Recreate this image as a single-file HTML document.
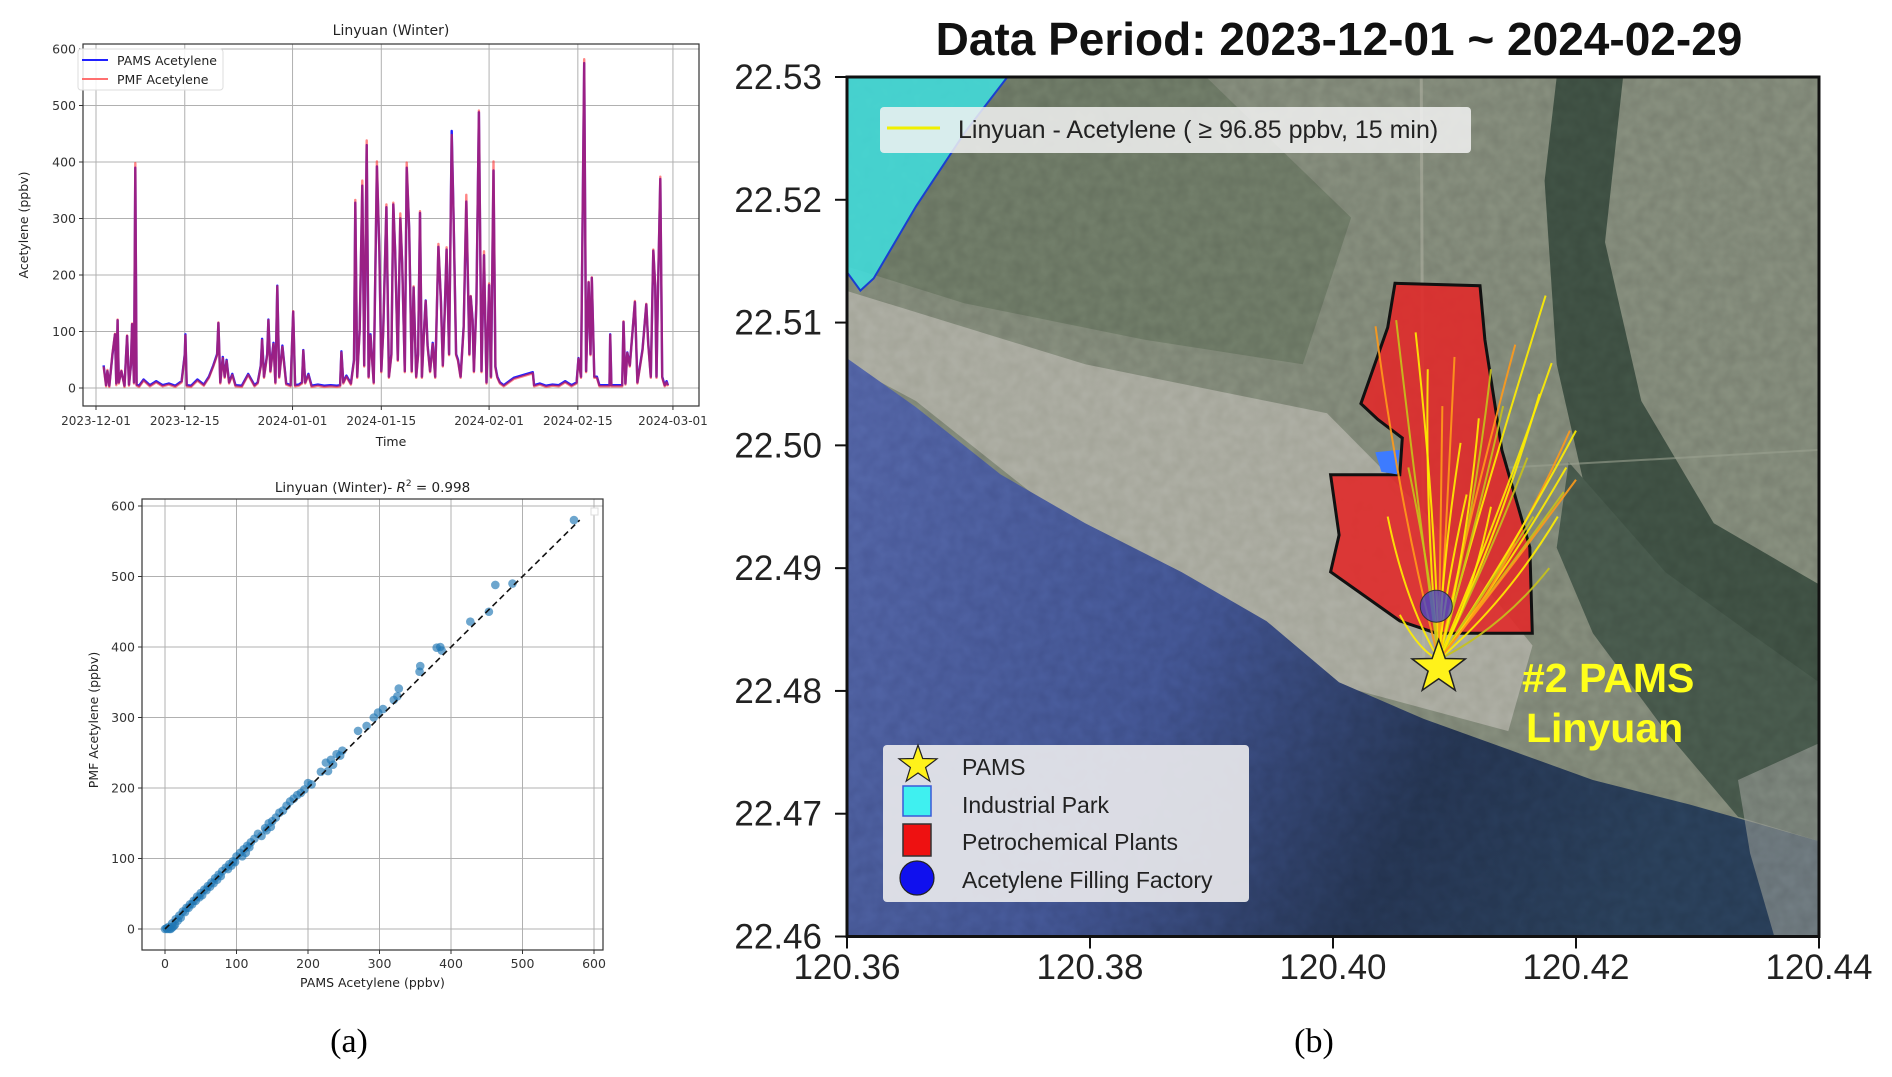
<!DOCTYPE html>
<html><head><meta charset="utf-8"><style>
html,body{margin:0;padding:0;background:#fff;}
svg{display:block;font-family:"DejaVu Sans","Liberation Sans",sans-serif;}
</style></head><body>
<svg id="root" width="1892" height="1077" viewBox="0 0 1892 1077" xmlns="http://www.w3.org/2000/svg">
<defs>
<linearGradient id="seaG" x1="0" y1="0" x2="1" y2="0.3">
<stop offset="0" stop-color="#4d5d9e"/><stop offset="0.45" stop-color="#3d4e88"/><stop offset="0.75" stop-color="#22314c"/><stop offset="1" stop-color="#263a52"/>
</linearGradient>
<clipPath id="mapClip"><rect x="847" y="77" width="972" height="859.5"/></clipPath>
<filter id="tex" x="0" y="0" width="1" height="1">
<feTurbulence type="fractalNoise" baseFrequency="0.08" numOctaves="2" seed="3" result="n"/>
<feColorMatrix type="matrix" values="0 0 0 0 0.5  0 0 0 0 0.5  0 0 0 0 0.5  0 0 0 0.35 0" in="n"/>
</filter>
</defs>
<g id="ts"></g>
<g id="sc"></g>
<g id="map"></g>
<text x="349" y="1052" font-family="Liberation Serif,serif" font-size="34" text-anchor="middle">(a)</text>
<text x="1314" y="1052" font-family="Liberation Serif,serif" font-size="34" text-anchor="middle">(b)</text>
</svg>
<script>
// ---------- Time series data (days since 2023-12-01) ----------
const tsDays = [
1.2,1.6,1.8,2.1,2.6,3.0,3.2,3.4,3.6,4.0,
4.5,4.9,5.2,5.5,5.7,6.0,6.2,6.4,6.8,7.5,
8.5,9.5,10.5,11.5,12.5,13.5,14.0,14.1,14.3,15,
16,17,17.8,18.5,19.1,19.3,19.6,20,20.3,20.6,
21,21.5,22,23,24,25,25.5,26.0,26.2,26.5,
27.0,27.2,27.5,28.0,28.3,28.6,28.9,29.4,30,30.7,
31.1,31.4,32,32.5,32.7,33,33.5,34,35,36,
37,38,38.5,38.7,39,39.5,40.2,40.7,40.9,41.2,
41.6,42,42.3,42.7,43,43.3,43.8,44.3,44.7,45,
45.3,45.8,46.2,46.6,46.9,47.2,47.6,48,48.3,48.7,
49,49.4,49.8,50.1,50.5,50.8,51.1,51.4,51.8,52,
52.3,52.7,53.1,53.5,54,54.4,54.7,55,55.3,55.7,
56.1,56.4,56.8,57.1,57.5,58,58.4,58.9,59.1,59.4,
59.6,60,60.4,60.8,61.2,61.6,62.0,62.3,62.7,63.0,
63.3,63.7,64.3,65.9,68.9,69.1,70,71,72,73,
74,75,75.8,76.1,76.5,77.0,77.3,77.7,78.0,78.2,
78.6,79.0,79.4,80.5,81.0,81.1,81.3,82.5,83.0,83.2,
83.5,83.8,84.2,85.0,85.4,86.2,86.8,87.1,87.5,87.9,
88.2,88.4,88.6,89.0,89.3,89.7,90.0,90.2];
const tsPams = [
40,5,30,4,60,95,8,120,10,30,
4,92,6,40,113,10,390,6,4,15,
5,12,5,8,4,12,60,95,5,4,
15,6,20,40,60,115,10,55,20,50,
10,25,5,4,25,5,10,40,87,20,
60,121,30,80,10,181,20,75,8,5,
135,5,6,10,67,10,25,4,6,4,
5,4,5,65,10,22,8,50,328,20,
105,358,40,430,20,95,10,392,240,30,
100,320,20,60,325,240,50,300,220,30,
390,280,30,178,20,60,310,20,115,155,
75,30,80,20,250,155,40,135,245,60,
455,300,60,50,20,110,330,60,162,120,
30,150,488,30,235,10,182,20,385,38,
20,10,5,18,28,5,8,4,6,5,
12,5,10,53,20,575,30,187,60,195,
20,20,5,5,5,95,5,5,5,117,
8,63,40,152,10,68,148,80,20,243,
180,20,145,370,20,5,12,5];
const tsPmf = [
38,3,32,2,62,96,5,121,8,31,
2,93,4,41,114,8,398,4,2,13,
3,10,3,6,2,10,58,93,3,2,
13,4,18,38,58,116,8,53,18,48,
8,23,3,2,23,3,8,38,85,18,
58,120,28,78,8,180,18,73,6,3,
136,3,4,8,66,8,23,2,4,2,
3,2,3,63,8,20,6,48,333,18,
103,367,38,438,18,93,8,401,238,28,
98,325,18,58,328,238,48,309,218,28,
399,278,28,180,18,58,313,18,113,154,
73,28,78,18,255,153,38,133,249,58,
448,298,58,48,18,108,342,58,163,118,
28,148,491,28,242,8,185,18,401,36,
18,8,3,16,26,3,6,2,4,3,
10,3,8,52,18,582,28,188,58,196,
18,18,3,3,3,94,3,3,3,118,
6,62,38,154,8,66,149,78,18,245,
182,18,146,374,18,3,10,3];
const tsYTicks = [0,100,200,300,400,500,600];
const tsXTickDays = [0,14,31,45,62,76,91];
const tsXTickLabels = ["2023-12-01","2023-12-15","2024-01-01","2024-01-15","2024-02-01","2024-02-15","2024-03-01"];

// ---------- Scatter data ----------
const scPams = [572,462,486,453,427,380,385,387,356,357,327,320,325,305,298,292,282,270,248,240,232,225,235,218,200,195,185,180,175,170,160,155,150,145,140,130,125,120,115,110,105,100,95,90,85,80,75,70,65,60,55,50,45,40,35,30,25,20,15,10,5,2,0,8,12,18,22,28,33,38,43,48,52,58,63,68,73,78,88,93,98,108,113,118,135,142,148,165,190,205,228,245,6,10,14,3];
const scPmf  = [580,488,490,450,436,399,400,395,365,373,341,325,330,312,307,300,288,281,253,248,240,236,233,223,207,198,190,185,181,175,165,158,153,150,143,135,128,123,118,113,108,103,96,92,87,82,77,72,66,61,56,51,46,40,35,30,25,19,14,8,3,1,0,0,4,12,16,24,30,35,40,45,48,55,60,65,70,75,85,90,95,103,108,116,132,140,145,168,193,205,224,246,0,2,6,0];
const scTicks = [0,100,200,300,400,500,600];
const fitLine = [0,580];

// ---------- Map data (lon/lat) ----------
const petroLon = [120.4051,120.4121,120.4125,120.4139,120.4162,120.4164,120.4085,120.4055,120.3998,120.4005,120.3998,120.4055,120.4057,120.4037,120.4023,120.4045];
const petroLat = [22.5132,22.5130,22.5086,22.4996,22.4917,22.4847,22.4847,22.4857,22.4897,22.4927,22.4976,22.4976,22.5006,22.5021,22.5034,22.5096];
const parkLon = [120.36,120.3732,120.3697,120.3657,120.3622,120.3611,120.36];
const parkLat = [22.53,22.53,22.5255,22.5195,22.5136,22.5126,22.5141];
const stationLon = 120.4087, stationLat = 22.4819;
const factoryLon = 120.4085, factoryLat = 22.4869;
const trajEndLon = [120.4035,120.4052,120.4068,120.4078,120.4100,120.4130,120.4175,120.4180,120.4195,120.4190,120.4200,120.4170,120.4150,120.4140,120.4120,120.4105,120.4090,120.4062,120.4045,120.4055,120.4085,120.4165,120.4192,120.4185,120.4200,120.4160,120.4130,120.4110,120.4150,120.4178];
const trajEndLat = [22.5097,22.5102,22.5092,22.5062,22.5072,22.5062,22.5122,22.5067,22.5012,22.4962,22.5012,22.5042,22.5082,22.5032,22.5022,22.5002,22.5032,22.4982,22.4942,22.4862,22.4882,22.4942,22.4982,22.4942,22.4972,22.4990,22.4950,22.4960,22.4920,22.4900];
const lonTicks = [120.36,120.38,120.40,120.42,120.44];
const latTicks = [22.46,22.47,22.48,22.49,22.50,22.51,22.52,22.53];

const NS="http://www.w3.org/2000/svg";
function mk(tag,attrs,parent,text){const e=document.createElementNS(NS,tag);for(const k in attrs)e.setAttribute(k,attrs[k]);if(text!==undefined)e.textContent=text;parent.appendChild(e);return e;}

// ===== Time series =====
(function(){
 const g=document.getElementById('ts');
 const L=83,R=699,T=44,B=406;
 const x=d=>96+d*6.34, y=v=>388-v*0.565;
 mk('rect',{x:L,y:T,width:R-L,height:B-T,fill:'#fff'},g);
 tsYTicks.forEach(v=>{
  const l=mk('line',{x1:L,x2:R,y1:y(v),y2:y(v),stroke:'#b0b0b0','stroke-width':1},g);
  
  
  mk('line',{x1:L-4,x2:L,y1:y(v),y2:y(v),stroke:'#333'},g);
  const t=mk('text',{x:L-7,y:y(v)+4.5,'font-size':12.5,'text-anchor':'end',fill:'#333'},g,String(v));
  
  
 });
 tsXTickDays.forEach((d,i)=>{
  const l=mk('line',{x1:x(d),x2:x(d),y1:T,y2:B,stroke:'#b0b0b0','stroke-width':1},g);
  
  
  mk('line',{x1:x(d),x2:x(d),y1:B,y2:B+4,stroke:'#333'},g);
  const t=mk('text',{x:x(d),y:B+19,'font-size':12,'text-anchor':'middle',fill:'#333'},g,tsXTickLabels[i]);
  
  
 });
 let pb='',pr='';
 tsDays.forEach((d,i)=>{pb+=(i?'L':'M')+x(d).toFixed(1)+','+y(tsPams[i]).toFixed(1);pr+=(i?'L':'M')+x(d).toFixed(1)+','+y(tsPmf[i]).toFixed(1);});
 const lb=mk('path',{d:pb,fill:'none',stroke:'#2020ff','stroke-width':2.4,'stroke-linejoin':'round'},g);
 
 
 const lr=mk('path',{d:pr,fill:'none',stroke:'#ff2020','stroke-opacity':0.55,'stroke-width':2.4,'stroke-linejoin':'round'},g);
 
 
 mk('rect',{x:L,y:T,width:R-L,height:B-T,fill:'none',stroke:'#333','stroke-width':1.2},g);
 const tt=mk('text',{x:(L+R)/2,y:35,'font-size':14,'text-anchor':'middle',fill:'#222'},g,'Linyuan (Winter)');
 
 
 const xl=mk('text',{x:(L+R)/2,y:446,'font-size':12.5,'text-anchor':'middle',fill:'#222'},g,'Time');
 
 
 const yl=mk('text',{x:0,y:0,'font-size':12.5,'text-anchor':'middle',fill:'#222',transform:'translate(28,225) rotate(-90)'},g,'Acetylene (ppbv)');
 
 
 const lg=mk('g',{},g);
 
 
 mk('rect',{x:78,y:49,width:145,height:41,rx:3,fill:'#fff','fill-opacity':0.85,stroke:'#ddd'},lg);
 mk('line',{x1:82,x2:108,y1:60,y2:60,stroke:'#2020ff','stroke-width':2},lg);
 mk('line',{x1:82,x2:108,y1:79,y2:79,stroke:'#ff7070','stroke-width':2},lg);
 mk('text',{x:117,y:65,'font-size':12.5,fill:'#222'},lg,'PAMS Acetylene');
 mk('text',{x:117,y:84,'font-size':12.5,fill:'#222'},lg,'PMF Acetylene');
})();

// ===== Scatter =====
(function(){
 const g=document.getElementById('sc');
 const L=142,R=603,T=499,B=950;
 const x=v=>165+v*0.715, y=v=>929-v*0.705;
 mk('rect',{x:L,y:T,width:R-L,height:B-T,fill:'#fff'},g);
 scTicks.forEach(v=>{
  mk('line',{x1:L,x2:R,y1:y(v),y2:y(v),stroke:'#b0b0b0'},g);
  mk('line',{x1:x(v),x2:x(v),y1:T,y2:B,stroke:'#b0b0b0'},g);
  mk('line',{x1:L-4,x2:L,y1:y(v),y2:y(v),stroke:'#333'},g);
  mk('line',{x1:x(v),x2:x(v),y1:B,y2:B+4,stroke:'#333'},g);
  const a=mk('text',{x:L-7,y:y(v)+4.5,'font-size':12.5,'text-anchor':'end',fill:'#333'},g,String(v));
  
  
  const b=mk('text',{x:x(v),y:B+18,'font-size':12.5,'text-anchor':'middle',fill:'#333'},g,String(v));
  
  
 });
 scPams.forEach((v,i)=>{
  const c=mk('circle',{cx:x(v),cy:y(scPmf[i]),r:4.3,fill:'#1f77b4','fill-opacity':0.65},g);
  
  
 });
 const fl=mk('line',{x1:x(fitLine[0]),y1:y(fitLine[0]),x2:x(fitLine[1]),y2:y(fitLine[1]),stroke:'#111','stroke-width':1.6,'stroke-dasharray':'6,4'},g);
 
 
 mk('rect',{x:L,y:T,width:R-L,height:B-T,fill:'none',stroke:'#333','stroke-width':1.2},g);
 mk('rect',{x:591,y:508,width:7,height:7,fill:'#fff',stroke:'#ddd'},g);
 const tt=mk('text',{x:(L+R)/2,y:492,'font-size':13.5,'text-anchor':'middle',fill:'#222'},g);
 
 
 tt.innerHTML='Linyuan (Winter)- <tspan font-style="italic">R</tspan><tspan font-size="9" dy="-6">2</tspan><tspan dy="6"> = 0.998</tspan>';
 const xl=mk('text',{x:(L+R)/2,y:987,'font-size':12.5,'text-anchor':'middle',fill:'#222'},g,'PAMS Acetylene (ppbv)');
 
 
 const yl=mk('text',{x:0,y:0,'font-size':12.5,'text-anchor':'middle',fill:'#222',transform:'translate(98,720) rotate(-90)'},g,'PMF Acetylene (ppbv)');
 
 
})();

// ===== Map =====
(function(){
 const g=document.getElementById('map');
 const L=847,R=1819,T=77,B=936.5;
 const X=lon=>L+(lon-120.36)/0.08*(R-L), Y=lat=>B-(lat-22.46)/0.07*(B-T);
 const TP=(xt,yt)=>[(L+(xt-703)*(R-L)/804),(T+(yt-65)*(B-T)/703)];
 const poly=(pts)=>pts.map(p=>TP(p[0],p[1]).map(v=>v.toFixed(1)).join(',')).join(' ');
 const bg=mk('g',{'clip-path':'url(#mapClip)'},g);
 
 
 mk('rect',{x:L,y:T,width:R-L,height:B-T,fill:'#787f70'},bg);
 mk('polygon',{points:poly([[703,65],[1000,65],[1120,180],[1080,300],[950,280],[800,250],[703,220]]),fill:'#65705e'},bg);
 mk('polygon',{points:poly([[703,240],[900,300],[1100,340],[1180,420],[1270,530],[1250,600],[1100,560],[900,440],[760,330],[703,300]]),fill:'#a2a397'},bg);
 mk('polygon',{points:poly([[1290,65],[1345,65],[1330,200],[1360,330],[1420,430],[1507,480],[1507,560],[1400,500],[1320,430],[1290,300],[1280,150]]),fill:'#3a4a3e'},bg);
 mk('polygon',{points:poly([[1300,380],[1380,470],[1450,520],[1507,560],[1507,690],[1440,670],[1380,600],[1320,520],[1290,450]]),fill:'#425246'},bg);
 mk('polygon',{points:poly([[703,295],[760,335],[830,390],[900,430],[980,470],[1050,510],[1110,560],[1180,590],[1250,615],[1320,640],[1400,660],[1507,690],[1507,768],[703,768]]),fill:'url(#seaG)'},bg);
 mk('polygon',{points:poly([[1440,640],[1507,610],[1507,768],[1470,768],[1450,700]]),fill:'#8e918a','fill-opacity':0.6},bg);
 mk('rect',{x:L,y:T,width:R-L,height:B-T,filter:'url(#tex)','fill-opacity':1,style:'mix-blend-mode:overlay'},bg);
 mk('line',{x1:TP(1178,65)[0],y1:T,x2:TP(1180,540)[0],y2:TP(1180,540)[1],stroke:'#b5b5a8','stroke-width':3,'stroke-opacity':0.5},bg);
 mk('line',{x1:TP(1240,385)[0],y1:TP(1240,385)[1],x2:R,y2:TP(1507,370)[1],stroke:'#9aa08f','stroke-width':2,'stroke-opacity':0.6},bg);
 let pp=parkLon.map((v,i)=>X(v).toFixed(1)+','+Y(parkLat[i]).toFixed(1)).join(' ');
 const park=mk('polygon',{points:pp,fill:'#3fe0e0','fill-opacity':0.85,stroke:'#1a3fd0','stroke-width':2},bg);
 
 
 let pts=petroLon.map((v,i)=>X(v).toFixed(1)+','+Y(petroLat[i]).toFixed(1)).join(' ');
 const pet=mk('polygon',{points:pts,fill:'#e02a2a','fill-opacity':0.9,stroke:'#111','stroke-width':3},bg);
 
 
 mk('polygon',{points:poly([[1140,372],[1160,370],[1158,390],[1145,388]]),fill:'#3d7bff'},bg);
 const sx=X(stationLon), sy=Y(stationLat);
 trajEndLon.forEach((lo,i)=>{
  const ex=X(lo), ey=Y(trajEndLat[i]);
  const mx=(sx+ex)/2+(i%3-1)*8, my=(sy+ey)/2+10;
  const p=mk('path',{d:`M${sx},${sy-8} Q${mx},${my} ${ex},${ey}`,fill:'none',stroke:i%4===0?'#ff9a1a':(i%4===1?'#c6c21a':'#ffee00'),'stroke-width':2,'stroke-opacity':0.9},bg);
  
  
 });
 const fac=mk('circle',{cx:X(factoryLon),cy:Y(factoryLat),r:16,fill:'#3b47d0','fill-opacity':0.75,stroke:'#333','stroke-width':1},bg);
 
 
 function star(cx,cy,r){let s='';for(let k=0;k<10;k++){const a=-Math.PI/2+k*Math.PI/5,rr=k%2?r*0.4:r;s+=(cx+rr*Math.cos(a)).toFixed(1)+','+(cy+rr*Math.sin(a)).toFixed(1)+' ';}return s;}
 const st=mk('polygon',{points:star(sx,sy,28),fill:'#fff21a',stroke:'#222','stroke-width':1.5},bg);
 
 
 const l1=mk('text',{x:1522,y:692,'font-size':41,'font-weight':'bold',fill:'#ffff1a','font-family':'Liberation Sans,sans-serif'},bg,'#2 PAMS');
 
 
 mk('text',{x:1526,y:742,'font-size':41,'font-weight':'bold',fill:'#ffff1a','font-family':'Liberation Sans,sans-serif'},bg,'Linyuan');
 const tl=mk('g',{},g);
 
 
 mk('rect',{x:880,y:107,width:591,height:46,rx:4,fill:'#f2f2f2','fill-opacity':0.85},tl);
 mk('line',{x1:887,x2:940,y1:128,y2:128,stroke:'#f0f000','stroke-width':3},tl);
 mk('text',{x:958,y:138,'font-size':25,fill:'#222','font-family':'Liberation Sans,sans-serif'},tl,'Linyuan - Acetylene ( ≥  96.85 ppbv, 15 min)');
 const bl=mk('g',{},g);
 
 
 mk('rect',{x:883,y:745,width:366,height:157,rx:4,fill:'#e8e8ec','fill-opacity':0.92},bl);
 mk('polygon',{points:star(918,765,20),fill:'#fff21a',stroke:'#222','stroke-width':1.2},bl);
 mk('rect',{x:903,y:786,width:28,height:30,fill:'#3ff0f0',stroke:'#3b5ad8','stroke-width':1.5},bl);
 mk('rect',{x:903,y:824,width:28,height:32,fill:'#ee1111',stroke:'#333','stroke-width':1.5},bl);
 mk('circle',{cx:917,cy:878,r:17,fill:'#1010ee',stroke:'#222','stroke-width':1.2},bl);
 [['PAMS',775],['Industrial Park',813],['Petrochemical Plants',850],['Acetylene Filling Factory',888]].forEach(a=>{
  const t=mk('text',{x:962,y:a[1],'font-size':23,fill:'#222','font-family':'Liberation Sans,sans-serif'},bl,a[0]);
  
  
 });
 mk('rect',{x:L,y:T,width:R-L,height:B-T,fill:'none',stroke:'#111','stroke-width':3},g);
 latTicks.forEach(v=>{
  mk('line',{x1:L-12,x2:L,y1:Y(v),y2:Y(v),stroke:'#111','stroke-width':2},g);
  const t=mk('text',{x:822,y:Y(v)+12,'font-size':35,'text-anchor':'end',fill:'#222','font-family':'Liberation Sans,sans-serif'},g,v.toFixed(2));
  
  
 });
 lonTicks.forEach(v=>{
  mk('line',{x1:X(v),x2:X(v),y1:B,y2:B+12,stroke:'#111','stroke-width':2},g);
  const t=mk('text',{x:X(v),y:979,'font-size':35,'text-anchor':'middle',fill:'#222','font-family':'Liberation Sans,sans-serif'},g,v.toFixed(2));
  
  
 });
 const tt=mk('text',{x:1339,y:55,'font-size':46,'font-weight':'bold','text-anchor':'middle',fill:'#111','font-family':'Liberation Sans,sans-serif'},g,'Data Period: 2023-12-01 ~ 2024-02-29');
 
 
})();
</script>
</body></html>
